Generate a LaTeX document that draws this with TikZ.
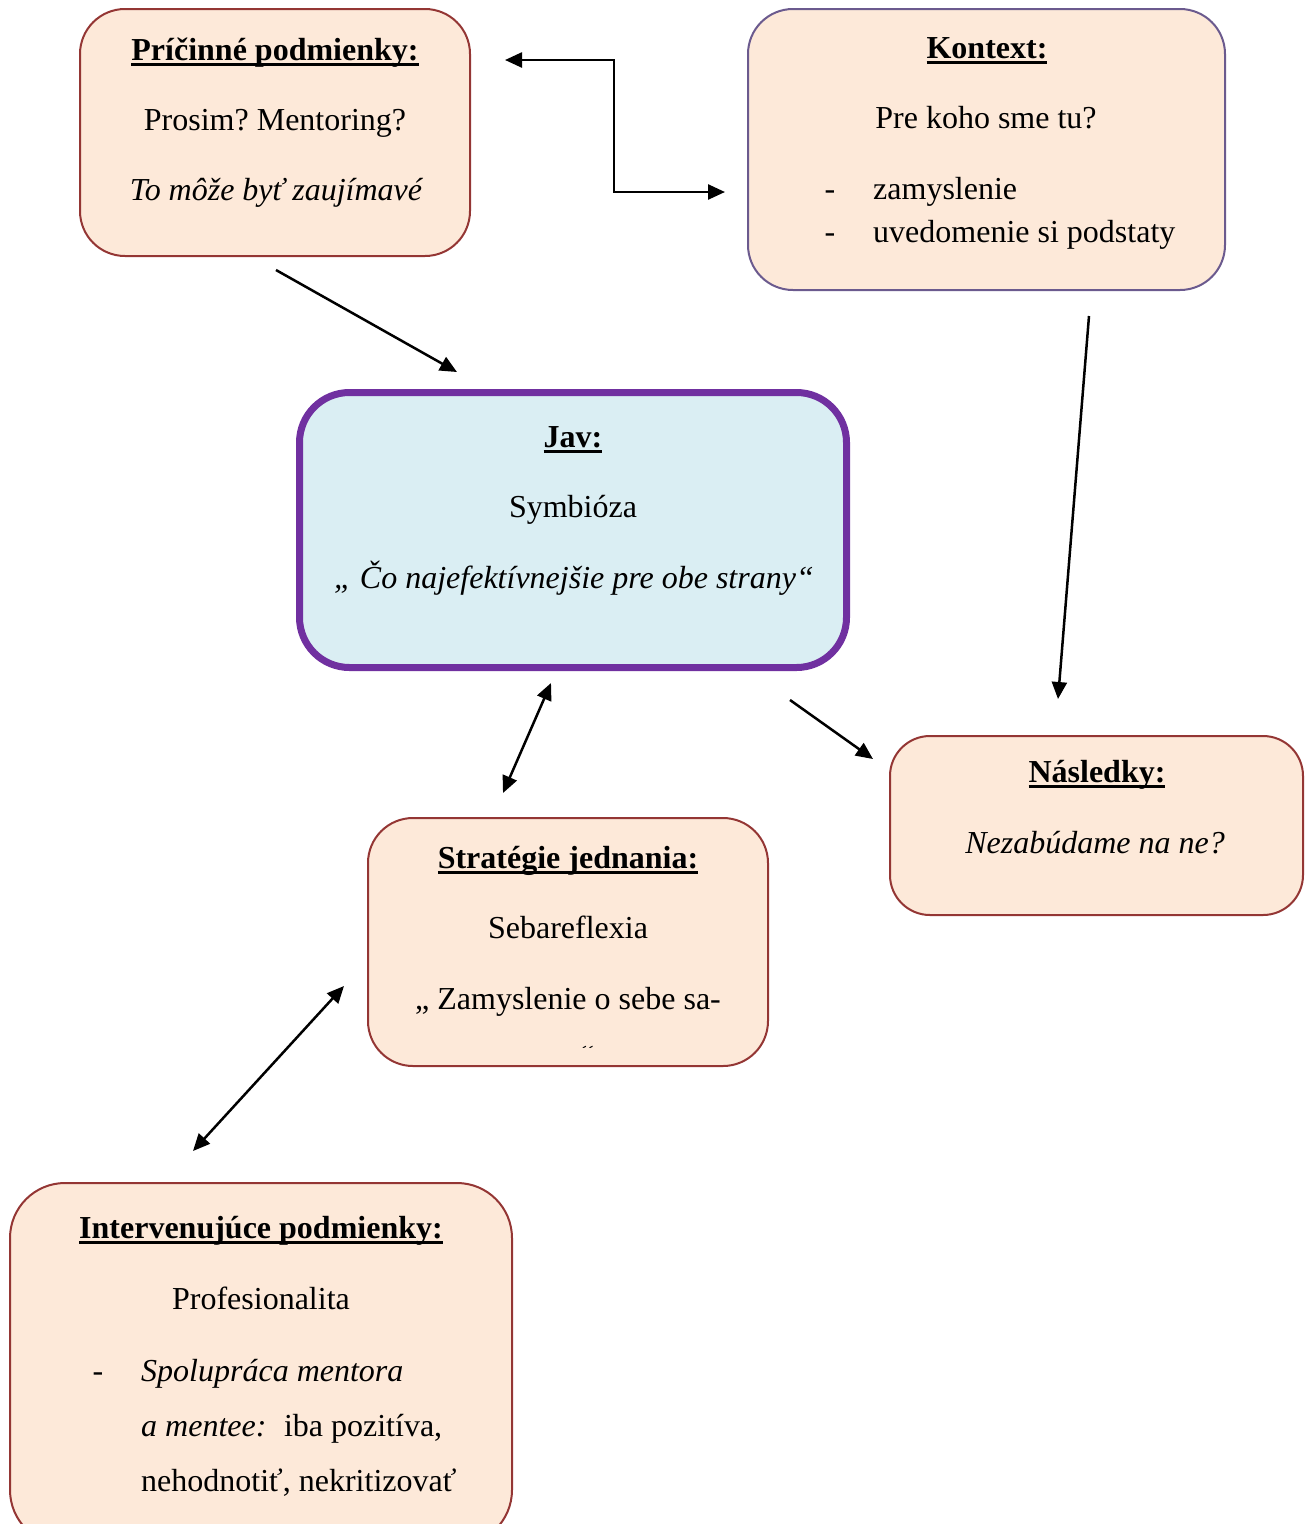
\documentclass[tikz,border=0pt]{standalone}
\usepackage{fontspec}
\setmainfont{Liberation Serif}
\usetikzlibrary{arrows.meta}
\definecolor{broskyna}{HTML}{FDE9D9}
\definecolor{tehla}{HTML}{943634}
\definecolor{fialova}{HTML}{7030A0}
\definecolor{sediva}{HTML}{6B5A8E}
\definecolor{modra}{HTML}{DAEEF3}
\newcommand{\nadpis}[1]{\setbox0\hbox{\bfseries #1}\rlap{\usebox0}\rule[-6pt]{\wd0}{2.6pt}}
\frenchspacing
\begin{document}
\begin{tikzpicture}[x=1pt, y=-1pt,
  every node/.style={font=\fontsize{32}{38}\selectfont},
  box/.style={draw=tehla, line width=2pt, fill=broskyna, rounded corners=45pt, inner sep=0pt},
  txt/.style={anchor=base, inner sep=0pt},
  sip/.style={line width=2.5pt, -{Triangle[length=17pt,width=15pt]}},
  dvojsip/.style={line width=2.5pt, {Triangle[length=17pt,width=15pt]}-{Triangle[length=17pt,width=15pt]}}]
  \useasboundingbox (0,0) rectangle (1312,1524);
  % --- Pri\v{c}inn\'e podmienky ---
  \node[box, minimum width=390pt, minimum height=247pt] (pric) at (275,132.5) {};
  \node[txt] (pric-t0) at (275,60) {\nadpis{Príčinné podmienky:}};
  \node[txt] (pric-t1) at (275,130) {Prosim? Mentoring?};
  \node[txt] (pric-t2) at (276,200) {\itshape To môže byť zaujímavé};
  % --- Kontext ---
  \node[box, draw=sediva, minimum width=477pt, minimum height=281pt] (kont) at (986.5,149.5) {};
  \node[txt] (kont-t0) at (987,58) {\nadpis{Kontext:}};
  \node[txt] (kont-t1) at (986,128) {Pre koho sme tu?};
  \node[txt] (kont-p1) at (830,199) {-};
  \node[txt, anchor=base west] (kont-t2) at (873,199) {zamyslenie};
  \node[txt] (kont-p2) at (830,242) {-};
  \node[txt, anchor=base west] (kont-t3) at (873,242) {uvedomenie si podstaty};
  % --- Jav ---
  \node[box, draw=fialova, fill=modra, line width=7pt, rounded corners=50pt,
    minimum width=547pt, minimum height=275pt] (jav) at (573,530) {};
  \node[txt] (jav-t0) at (573,447) {\nadpis{Jav:}};
  \node[txt] (jav-t1) at (573,517) {Symbióza};
  \node[txt] (jav-t2) at (574,588) {\itshape „ Čo najefektívnejšie pre obe strany“};
  % --- Strat\'egie jednania ---
  \node[box, minimum width=400pt, minimum height=248pt] (strat) at (568,942) {};
  \node[txt] (strat-t0) at (568,868) {\nadpis{Stratégie jednania:}};
  \node[txt] (strat-t1) at (568,938) {Sebareflexia};
  \node[txt] (strat-t2) at (568,1009) {„ Zamyslenie o sebe sa-};
  \begin{scope}
    \clip (380,1020) rectangle (760,1047);
    \node[txt] (strat-t3) at (587,1067) {“};
  \end{scope}
  % --- N\'asledky ---
  \node[box, rounded corners=40pt, minimum width=413pt, minimum height=179pt] (nasl) at (1096.5,825.5) {};
  \node[txt] (nasl-t0) at (1097,782) {\nadpis{Následky:}};
  \node[txt] (nasl-t1) at (1095,853) {\itshape Nezabúdame na ne?};
  % --- Intervenuj\'uce podmienky ---
  \node[box, rounded corners=55pt, minimum width=502pt, minimum height=362pt] (interv) at (261,1364) {};
  \node[txt] (interv-t0) at (261,1238) {\nadpis{Intervenujúce podmienky:}};
  \node[txt] (interv-t1) at (261,1309) {Profesionalita};
  \node[txt] (interv-p1) at (98,1381) {-};
  \node[txt, anchor=base west] (interv-t2) at (141,1381) {\itshape Spolupráca mentora};
  \node[txt, anchor=base west] (interv-t3) at (141,1436) {\textit{a mentee:}\hspace{0.55em}iba pozitíva,};
  \node[txt, anchor=base west] (interv-t4) at (141,1491) {nehodnotiť, nekritizovať};
  % --- sipky ---
  \coordinate (pric-r) at (505,60);
  \coordinate (kont-l) at (725,192);
  \coordinate (pric-d) at (276,270);
  \coordinate (jav-u) at (457,372);
  \coordinate (kont-d) at (1089,316);
  \coordinate (nasl-u) at (1058,699);
  \coordinate (jav-r) at (790,700);
  \coordinate (nasl-l) at (873,759);
  \coordinate (jav-d) at (551,683);
  \coordinate (strat-u) at (503,793);
  \coordinate (strat-l) at (344,986);
  \coordinate (interv-u) at (193,1151);
  \draw[dvojsip] (pric-r) -- ++(109,0) |- (kont-l);
  \draw[sip] (pric-d) -- (jav-u);
  \draw[sip] (kont-d) -- (nasl-u);
  \draw[sip] (jav-r) -- (nasl-l);
  \draw[dvojsip] (strat-u) -- (jav-d);
  \draw[dvojsip] (interv-u) -- (strat-l);
\end{tikzpicture}
\end{document}
